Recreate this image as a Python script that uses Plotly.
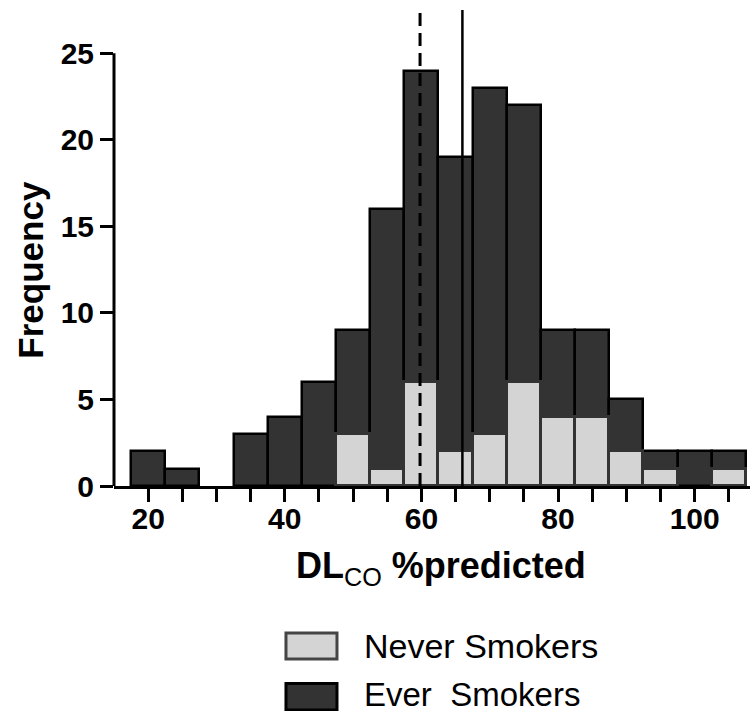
import plotly.graph_objects as go

# ---- data ----
bin_centers = [20, 25, 30, 35, 40, 45, 50, 55, 60, 65, 70, 75, 80, 85, 90, 95, 100, 105]
ever_total = [2, 1, 0, 3, 4, 6, 9, 16, 24, 19, 23, 22, 9, 9, 5, 2, 2, 2]
never_smokers = [0, 0, 0, 0, 0, 0, 3, 1, 6, 2, 3, 6, 4, 4, 2, 1, 0, 1]
tick_vals = [20, 25, 30, 35, 40, 45, 50, 55, 60, 65, 70, 75, 80, 85, 90, 95, 100, 105]
tick_text = ["20", "", "", "", "40", "", "", "", "60", "", "", "", "80", "", "", "", "100", ""]
y_ticks = [0, 5, 10, 15, 20, 25]
median_dashed = 59.8
median_solid = 66
bin_width = 5

FONT = "Liberation Sans, Arial, sans-serif"

fig = go.Figure()
fig.add_trace(go.Bar(
    x=bin_centers, y=[v if v else None for v in ever_total], width=[bin_width] * len(bin_centers),
    marker=dict(color="#333333", line=dict(color="#000000", width=2.5)),
    name="Ever  Smokers", showlegend=False))
fig.add_trace(go.Bar(
    x=bin_centers, y=[v if v else None for v in never_smokers], width=[bin_width] * len(bin_centers),
    marker=dict(color="#d4d4d4", line=dict(color="#333333", width=3)),
    name="Never Smokers", showlegend=False))

# median lines
fig.add_shape(type="line", xref="x", yref="paper", x0=median_dashed, x1=median_dashed, y0=0, y1=1,
              line=dict(color="black", width=3, dash="13px,7px"))
fig.add_shape(type="line", xref="x", yref="paper", x0=median_solid, x1=median_solid, y0=0, y1=1,
              line=dict(color="black", width=2.5))

# y axis line only up to 25
fig.add_shape(type="line", xref="paper", yref="y", x0=0, x1=0, y0=0, y1=25,
              line=dict(color="black", width=3))

fig.update_layout(
    width=755, height=711,
    margin=dict(l=114, r=5, t=10, b=225),
    plot_bgcolor="white", paper_bgcolor="white",
    barmode="overlay", bargap=0,
    font=dict(family=FONT, color="black"),
    xaxis=dict(range=[15, 108.1], tickvals=tick_vals, ticktext=tick_text,
               showline=True, linecolor="black", linewidth=3,
               ticks="outside", ticklen=13, tickwidth=3, tickcolor="black",
               ticklabelstandoff=-9,
               showgrid=False, zeroline=False, automargin=False,
               tickfont=dict(size=30, family=FONT, weight="bold")),
    yaxis=dict(range=[0, 27.5], tickvals=y_ticks, showline=False,
               ticks="outside", ticklen=13, tickwidth=3, tickcolor="black",
               showgrid=False, zeroline=False, automargin=False,
               tickfont=dict(size=30, family=FONT, weight="bold")),
)

# axis titles
fig.add_annotation(xref="paper", yref="paper", x=0.514, y=-0.172, xanchor="center", yanchor="middle",
                   text="<b>DL</b><sub>CO</sub> <b>%predicted</b>", showarrow=False,
                   font=dict(size=36, family=FONT))
fig.add_annotation(xref="paper", yref="y", x=-0.1305, y=12.5, xanchor="center", yanchor="middle",
                   text="<b>Frequency</b>", textangle=-90, showarrow=False,
                   font=dict(size=35, family=FONT))

# custom legend
fig.add_shape(type="rect", xref="paper", yref="paper", x0=0.2704, x1=0.3506, y0=-0.3088, y1=-0.3634,
              fillcolor="#d4d4d4", line=dict(color="#444444", width=3))
fig.add_shape(type="rect", xref="paper", yref="paper", x0=0.2704, x1=0.3506, y0=-0.4149, y1=-0.4706,
              fillcolor="#333333", line=dict(color="#000000", width=3))
fig.add_annotation(xref="paper", yref="paper", x=0.3900, y=-0.3353, xanchor="left", yanchor="middle",
                   text="Never Smokers", showarrow=False, font=dict(size=34, family=FONT))
fig.add_annotation(xref="paper", yref="paper", x=0.3900, y=-0.4370, xanchor="left", yanchor="middle",
                   height=30, text="Ever\u00a0\u00a0Smokers", showarrow=False,
                   font=dict(size=33, family=FONT))

fig.write_html("out.html", config={"displayModeBar": False},
               post_script="document.body.style.margin='0px';")
